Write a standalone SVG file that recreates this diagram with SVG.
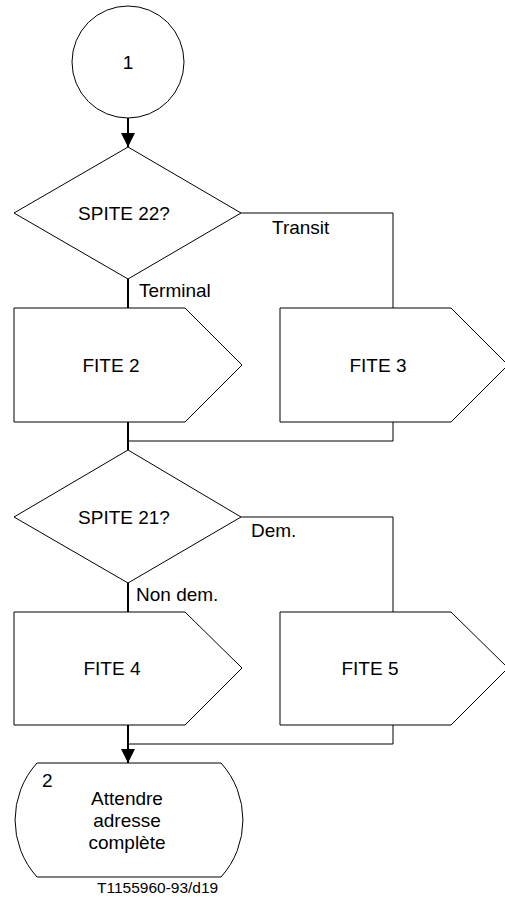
<svg xmlns="http://www.w3.org/2000/svg" width="505" height="901" viewBox="0 0 505 901">
<style>
.s{fill:#fff;stroke:#000;stroke-width:1}
.t{font-family:"Liberation Sans",Arial,sans-serif;font-size:19px;fill:#000}
.m{text-anchor:middle}
.c{fill:none;stroke:#000;stroke-width:1}
.f{fill:none;stroke:#000;stroke-width:2}
</style>
<defs>
<marker id="ah" markerWidth="14" markerHeight="14" refX="14" refY="7" orient="auto" markerUnits="userSpaceOnUse">
<path d="M0,0 L14,7 L0,14 Z" fill="#000"/>
</marker>
</defs>
<rect width="505" height="901" fill="#fff"/>
<g id="connectors">
<line class="f" x1="128" y1="118" x2="128" y2="147" marker-end="url(#ah)"/>
<line class="f" x1="128" y1="279" x2="128" y2="308"/>
<polyline class="c" points="241,213 393,213 393,308"/>
<line class="f" x1="128" y1="422" x2="128" y2="450"/>
<polyline class="c" points="393,422 393,441 128,441"/>
<line class="f" x1="128" y1="583" x2="128" y2="612"/>
<polyline class="c" points="241,517 393,517 393,612"/>
<line class="f" x1="128" y1="725" x2="128" y2="763" marker-end="url(#ah)"/>
<polyline class="c" points="393,725 393,744 128,744"/>
<text class="t" x="139" y="297">Terminal</text>
<text class="t" x="272" y="234">Transit</text>
<text class="t" x="251" y="537">Dem.</text>
<text class="t" x="136" y="601">Non dem.</text>
</g>
<g id="start">
<circle class="s" cx="128" cy="62" r="56"/>
<text class="t m" x="128" y="69">1</text>
</g>
<g id="spite22">
<polygon class="s" points="128,147 241,213 128,279 14,213"/>
<text class="t m" x="124" y="220">SPITE 22?</text>
</g>
<g id="fite2">
<polygon class="s" points="14,308 185,308 242,365 185,422 14,422"/>
<text class="t m" x="111" y="372">FITE 2</text>
</g>
<g id="fite3">
<polygon class="s" points="280,308 451,308 508,365 451,422 280,422"/>
<text class="t m" x="378" y="372">FITE 3</text>
</g>
<g id="spite21">
<polygon class="s" points="128,450 241,517 128,583 14,517"/>
<text class="t m" x="124" y="524">SPITE 21?</text>
</g>
<g id="fite4">
<polygon class="s" points="14,612 185,612 242,668 185,725 14,725"/>
<text class="t m" x="112" y="675">FITE 4</text>
</g>
<g id="fite5">
<polygon class="s" points="280,612 451,612 508,668 451,725 280,725"/>
<text class="t m" x="370" y="675">FITE 5</text>
</g>
<g id="state2">
<path class="s" d="M37,763 L221,763 A85,85 0 0 1 221,877 L37,877 A85,85 0 0 1 37,763 Z"/>
<text class="t" x="42" y="787">2</text>
<text class="t m" x="127" y="805">Attendre</text>
<text class="t m" x="127" y="827">adresse</text>
<text class="t m" x="127" y="849">complète</text>
</g>
<text class="t" x="97" y="893" style="font-size:15.5px">T1155960-93/d19</text>
</svg>
